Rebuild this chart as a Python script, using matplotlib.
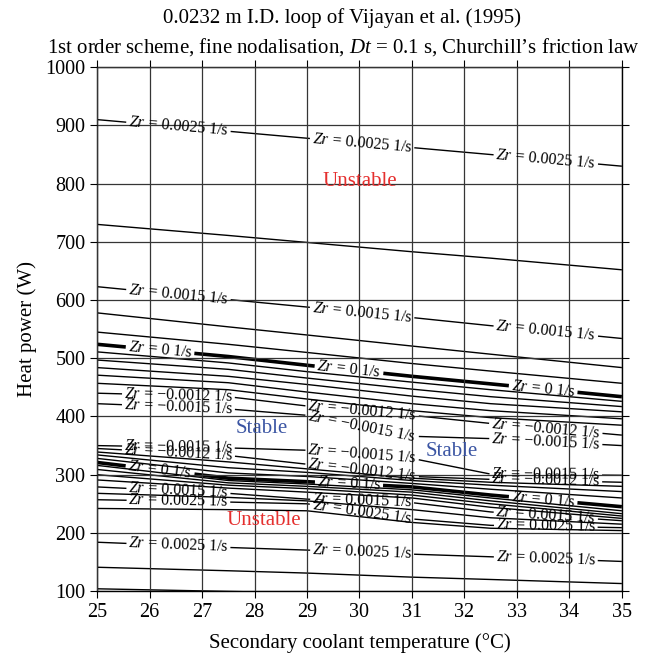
import numpy as np
import matplotlib.pyplot as plt

plt.rcParams["font.family"] = "Liberation Serif"
plt.rcParams["mathtext.fontset"] = "custom"
plt.rcParams["mathtext.it"] = "Liberation Serif:italic"
plt.rcParams["mathtext.rm"] = "Liberation Serif"

# secondary coolant temperature (degC) at which each contour is sampled
T = [25, 27.5, 29, 31, 32.5, 35]

# heat power (W) of each Zr contour; upper branch, top to bottom
u_0025 = [910, 890, 878, 862, 850, 830]
u_0020 = [730, 711, 699, 683, 672, 652]
u_0015 = [623, 601, 588, 570, 556, 534]
u_0010 = [578, 554, 540, 521, 507, 484]
u_0005 = [545, 524, 510, 491, 478, 457]
u_0000 = [524, 503, 488, 469, 456, 434]
u_m0002 = [511, 492, 477, 459, 446, 426]
u_m0004 = [497, 481, 466, 447, 434, 417]
u_m0006 = [484, 469, 455, 435, 422, 408]
u_m0008 = [471, 458, 442, 422, 410, 396]
u_m0010 = [457, 446, 430, 410, 398, 385]
u_m0012 = [440, 434, 418, 402, 388, 368]
u_m0015 = [422, 413, 402, 366, 362, 350]

# lower branch, top to bottom
l_m0015 = [350, 346, 342, 328, 301, 299]
l_m0012 = [345, 333, 318, 297, 292, 287]
l_m0010 = [339, 322, 310, 294, 287, 280]
l_m0006 = [334, 312, 304, 290, 282, 271]
l_m0003 = [328, 303, 297, 285, 275, 260]
l_0000 = [321, 294, 288, 279, 265, 245]
l_0003 = [316, 290, 284, 274, 260, 238]
l_0006 = [309, 286, 280, 270, 255, 233]
l_0009 = [300, 282, 276, 265, 250, 229]
l_0012 = [291, 277, 270, 260, 244, 225]
l_0015 = [279, 268, 258, 252, 236, 221]
l_0020 = [268, 261, 255, 240, 226, 215]
l_0025 = [257, 253, 250, 224, 213, 209]
l_0027 = [242, 240, 238, 218, 208, 204]
l_0025b = [184, 175, 170.5, 163.5, 159, 151]
l_0030 = [141, 135, 131, 124, 120, 113]
l_0035 = [104, 99.5, 97, 94, 92, 89]

label_x = [26.55, 30.05, 33.55]
zero_label_x = [26.2, 29.8, 33.5]

# (line, label text or None)
contours = [
    (u_0025, "0.0025"), (u_0020, None), (u_0015, "0.0015"), (u_0010, None),
    (u_0005, None), (u_0000, "0"), (u_m0002, None), (u_m0004, None),
    (u_m0006, None), (u_m0008, None), (u_m0010, None),
    (u_m0012, "\u22120.0012"), (u_m0015, "\u22120.0015"),
    (l_m0015, "\u22120.0015"), (l_m0012, "\u22120.0012"), (l_m0010, None),
    (l_m0006, None), (l_m0003, None), (l_0000, "0"), (l_0003, None),
    (l_0006, None), (l_0009, None), (l_0012, None), (l_0015, "0.0015"),
    (l_0020, None), (l_0025, "0.0025"), (l_0027, None),
    (l_0025b, "0.0025"), (l_0030, None), (l_0035, None),
]

fig = plt.figure(figsize=(6.56, 6.59), dpi=100)
ax = fig.add_axes([0.148, 0.103, 0.800, 0.795])
ax.set_xlim(25, 35)
ax.set_ylim(100, 1000)
ax.set_xticks(np.arange(25, 36, 1))
ax.set_yticks(np.arange(100, 1001, 100))
ax.grid(True, color="#353535", lw=0.9)
ax.set_axisbelow(False)
ax.tick_params(direction="out", top=True, right=True, length=5, width=0.8,
               labelsize=14.5, labeltop=False, labelright=False)
for sp in ax.spines.values():
    sp.set_linewidth(1.0)

fig.canvas.draw()
renderer = fig.canvas.get_renderer()
ax_w = ax.get_window_extent().width
xs = np.asarray(T, float)

for ys, zr in contours:
    ys = np.asarray(ys, float)
    lw = 2.6 if zr == "0" else 1.0
    gaps = []
    if zr is not None:
        pos = zero_label_x if zr == "0" else label_x
        for xc in pos:
            yc = np.interp(xc, xs, ys)
            dy = np.interp(xc + 0.4, xs, ys) - np.interp(xc - 0.4, xs, ys)
            ang = np.degrees(np.arctan2(dy, 0.8))
            t = ax.text(xc, yc, f"$Zr$ = {zr} 1/s", fontsize=11.5, ha="center",
                        va="center", rotation=ang, rotation_mode="anchor",
                        transform_rotates_text=True, zorder=3)
            w = t.get_window_extent(renderer).width * 10 / ax_w
            gaps.append((xc - w / 2 - 0.03, xc + w / 2 + 0.03))
    pieces = []
    start = xs[0]
    for a, b in sorted(gaps):
        pieces.append((start, a))
        start = b
    pieces.append((start, xs[-1]))
    for a, b in pieces:
        inner = xs[(xs > a) & (xs < b)]
        px = np.r_[a, inner, b]
        ax.plot(px, np.interp(px, xs, ys), color="black", lw=lw, zorder=2,
                solid_capstyle="butt")

ax.text(30.0, 803, "Unstable", color="#e5302f", fontsize=15, ha="center", va="center")
ax.text(28.17, 222, "Unstable", color="#e5302f", fontsize=15, ha="center", va="center")
ax.text(28.14, 380, "Stable", color="#3b55a3", fontsize=15, ha="center", va="center")
ax.text(31.76, 339, "Stable", color="#3b55a3", fontsize=15, ha="center", va="center")

ax.set_xlabel("Secondary coolant temperature (\u00b0C)", fontsize=15, labelpad=8)
ax.set_ylabel("Heat power (W)", fontsize=15, labelpad=6)

fig.text(0.522, 0.972, "0.0232 m I.D. loop of Vijayan et al. (1995)",
         fontsize=15, ha="center", va="center")
fig.text(0.524, 0.929, "1st order scheme, fine nodalisation, $Dt$ = 0.1 s, Churchill\u2019s friction law",
         fontsize=15, ha="center", va="center")

fig.savefig("out.png", dpi=100)
